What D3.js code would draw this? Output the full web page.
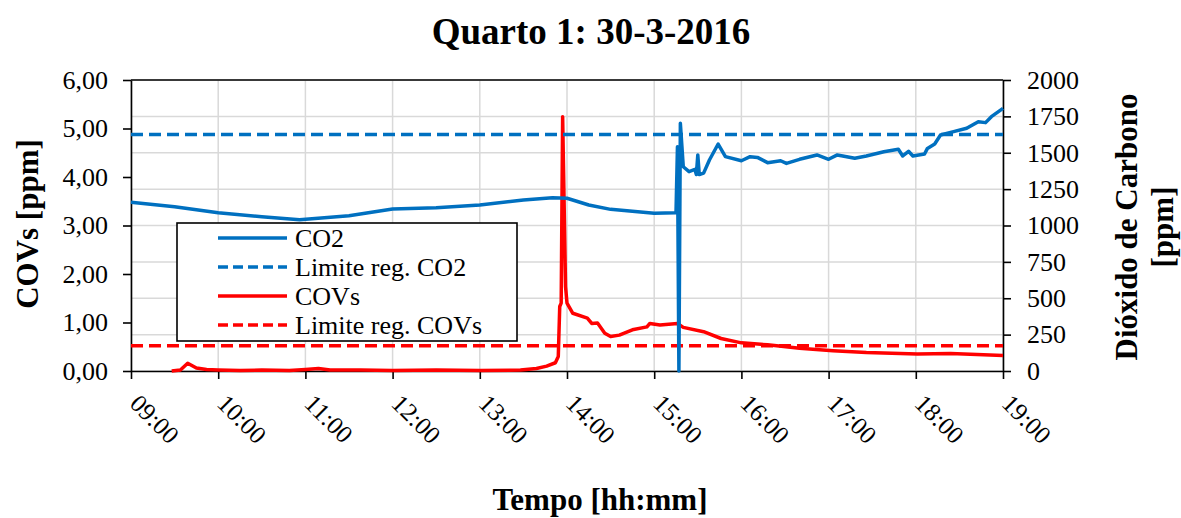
<!DOCTYPE html>
<html>
<head>
<meta charset="utf-8" />
<style>
body { margin: 0; background: white; }
svg { display: block; font-family: "Liberation Serif", "Times New Roman", serif; }
.grid line { stroke: #d9d9d9; stroke-width: 1.5; }
.axis path, .axis line { stroke: black; stroke-width: 1.6; }
.axis text { font-size: 26px; fill: black; font-family: "Liberation Serif", serif; }
.axis.x text { font-size: 25px; }
</style>
<script src="https://cdnjs.cloudflare.com/ajax/libs/d3/7.8.5/d3.min.js"></script>
</head>
<body>
<div id="chart"></div>
<script>
// hora, CO2 [ppm] (eixo direito)
var co2Times = ["09:00","09:30","10:00","10:30","10:56","11:30","12:00","12:30","13:00","13:30","13:50","14:00","14:15","14:30","15:00","15:15","15:16","15:17","15:18","15:20","15:24","15:28","15:29","15:30","15:31","15:34","15:38","15:44","15:49","16:00","16:06","16:11","16:18","16:27","16:31","16:40","16:52","17:00","17:06","17:18","17:26","17:38","17:48","17:51","17:55","17:58","18:06","18:08","18:13","18:17","18:26","18:35","18:43","18:48","18:52","19:00"];
var co2Values = [1160,1129,1088,1060,1040,1067,1113,1122,1141,1175,1191,1187,1141,1111,1084,1088,1541,0,1702,1404,1370,1385,1350,1485,1350,1360,1450,1560,1473,1445,1473,1468,1432,1445,1427,1455,1485,1455,1485,1462,1478,1507,1524,1478,1510,1478,1491,1530,1560,1622,1645,1668,1713,1707,1748,1805];

// hora, COVs [ppm] (eixo esquerdo)
var covTimes = ["09:28","09:34","09:39","09:45","09:52","10:00","10:15","10:30","10:49","11:00","11:09","11:17","11:38","12:00","12:30","13:00","13:28","13:39","13:46","13:52","13:54","13:55","13:56","13:57","13:59","14:00","14:04","14:14","14:17","14:21","14:26","14:30","14:36","14:45","14:55","14:57","15:04","15:16","15:20","15:34","15:46","16:00","16:18","16:40","17:03","17:26","18:01","18:24","19:00"];
var covValues = [0.00,0.02,0.16,0.06,0.03,0.02,0.01,0.02,0.01,0.03,0.05,0.02,0.02,0.01,0.02,0.01,0.02,0.05,0.10,0.17,0.30,1.33,1.40,5.24,1.74,1.40,1.19,1.09,0.98,0.99,0.78,0.71,0.74,0.85,0.91,0.98,0.95,0.98,0.90,0.81,0.67,0.58,0.54,0.47,0.42,0.38,0.35,0.36,0.32];

var co2Limit = 1625;
var covLimit = 0.52;

var leftTicks = [0, 1, 2, 3, 4, 5, 6];
var rightTicks = [0, 250, 500, 750, 1000, 1250, 1500, 1750, 2000];
var legendLabels = ["CO2", "Limite reg. CO2", "COVs", "Limite reg. COVs"];

var W = 1181, H = 518;
var margin = { top: 80, right: 178, bottom: 147, left: 131 };
var width = W - margin.left - margin.right,
    height = H - margin.top - margin.bottom;

var parse = d3.timeParse("%H:%M");
var co2Data = co2Times.map(function(t, i) { return { t: parse(t), v: co2Values[i] }; });
var covData = covTimes.map(function(t, i) { return { t: parse(t), v: covValues[i] }; });

var x = d3.scaleTime().domain([parse("09:00"), parse("19:00")]).range([0, width]);
var yL = d3.scaleLinear().domain([0, 6]).range([height, 0]);
var yR = d3.scaleLinear().domain([0, 2000]).range([height, 0]);

var svg = d3.select("#chart").append("svg")
  .attr("width", W).attr("height", H);

var g = svg.append("g")
  .attr("transform", "translate(" + margin.left + "," + margin.top + ")");

var hours = d3.timeHour.range(parse("09:00"), d3.timeMinute.offset(parse("19:00"), 1));

// grid
var grid = g.append("g").attr("class", "grid");
grid.selectAll(".h").data(rightTicks).enter().append("line")
  .attr("x1", 0).attr("x2", width)
  .attr("y1", function(d) { return yR(d); }).attr("y2", function(d) { return yR(d); });
grid.selectAll(".v").data(hours).enter().append("line")
  .attr("x1", function(d) { return x(d); }).attr("x2", function(d) { return x(d); })
  .attr("y1", 0).attr("y2", height);

var fmt = function(d) { return d3.format(".2f")(d).replace(".", ","); };

// axes
g.append("g").attr("class", "axis")
  .call(d3.axisLeft(yL).tickValues(leftTicks).tickSize(8).tickSizeOuter(0).tickPadding(15).tickFormat(fmt));

g.append("g").attr("class", "axis")
  .attr("transform", "translate(" + width + ",0)")
  .call(d3.axisRight(yR).tickValues(rightTicks).tickSize(8).tickSizeOuter(0).tickPadding(16).tickFormat(d3.format("d")));

var xAxis = g.append("g").attr("class", "axis x")
  .attr("transform", "translate(0," + height + ")")
  .call(d3.axisBottom(x).tickValues(hours).tickSize(8).tickSizeOuter(0).tickFormat(d3.timeFormat("%H:%M")));
xAxis.selectAll("text")
  .attr("text-anchor", "start")
  .attr("dy", null)
  .attr("y", 0)
  .attr("transform", "translate(-3,34) rotate(45)");

// top border
g.append("line").attr("x1", 0).attr("x2", width).attr("y1", 0).attr("y2", 0)
  .attr("stroke", "black").attr("stroke-width", 1.6);

var blue = "#0070c0", red = "#ff0000";

// COVs (primary axis)
g.append("path").datum(covData)
  .attr("fill", "none").attr("stroke", red).attr("stroke-width", 3.5).attr("stroke-linejoin", "round")
  .attr("d", d3.line().x(function(d) { return x(d.t); }).y(function(d) { return yL(d.v); }));

g.append("line")
  .attr("x1", 0).attr("x2", width)
  .attr("y1", yL(covLimit)).attr("y2", yL(covLimit))
  .attr("stroke", red).attr("stroke-width", 3.5).attr("stroke-dasharray", "12,6");

// CO2 (secondary axis)
g.append("path").datum(co2Data)
  .attr("fill", "none").attr("stroke", blue).attr("stroke-width", 3.5).attr("stroke-linejoin", "round")
  .attr("d", d3.line().x(function(d) { return x(d.t); }).y(function(d) { return yR(d.v); }));

g.append("line")
  .attr("x1", 0).attr("x2", width)
  .attr("y1", yR(co2Limit)).attr("y2", yR(co2Limit))
  .attr("stroke", blue).attr("stroke-width", 3.5).attr("stroke-dasharray", "12,6");

// legend
var lg = svg.append("g").attr("transform", "translate(177,223)");
lg.append("rect").attr("width", 340).attr("height", 118)
  .attr("fill", "white").attr("stroke", "black").attr("stroke-width", 1.6);
var styles = [[blue, null], [blue, "10,5"], [red, null], [red, "10,5"]];
legendLabels.forEach(function(l, i) {
  var yy = 15 + i * 29;
  lg.append("line").attr("x1", 41).attr("x2", 110).attr("y1", yy).attr("y2", yy)
    .attr("stroke", styles[i][0]).attr("stroke-width", 3.5).attr("stroke-dasharray", styles[i][1]);
  lg.append("text").attr("x", 118).attr("y", yy + 9).attr("font-size", "26px").text(l);
});

// titles
svg.append("text").attr("x", 591).attr("y", 44).attr("text-anchor", "middle")
  .attr("font-size", "37px").attr("font-weight", "bold").text("Quarto 1: 30-3-2016");

svg.append("text").attr("text-anchor", "middle").attr("font-size", "31px").attr("font-weight", "bold")
  .attr("transform", "translate(38,224) rotate(-90)")
  .text("COVs [ppm]");

var rt = svg.append("text").attr("text-anchor", "middle").attr("font-size", "31px").attr("font-weight", "bold")
  .attr("transform", "translate(1137,227) rotate(-90)");
rt.append("tspan").attr("x", 0).attr("dy", 0).text("Dióxido de Carbono");
rt.append("tspan").attr("x", 0).attr("dy", 36).text("[ppm]");

svg.append("text").attr("x", 600).attr("y", 510).attr("text-anchor", "middle")
  .attr("font-size", "31px").attr("font-weight", "bold").text("Tempo [hh:mm]");
</script>
</body>
</html>
